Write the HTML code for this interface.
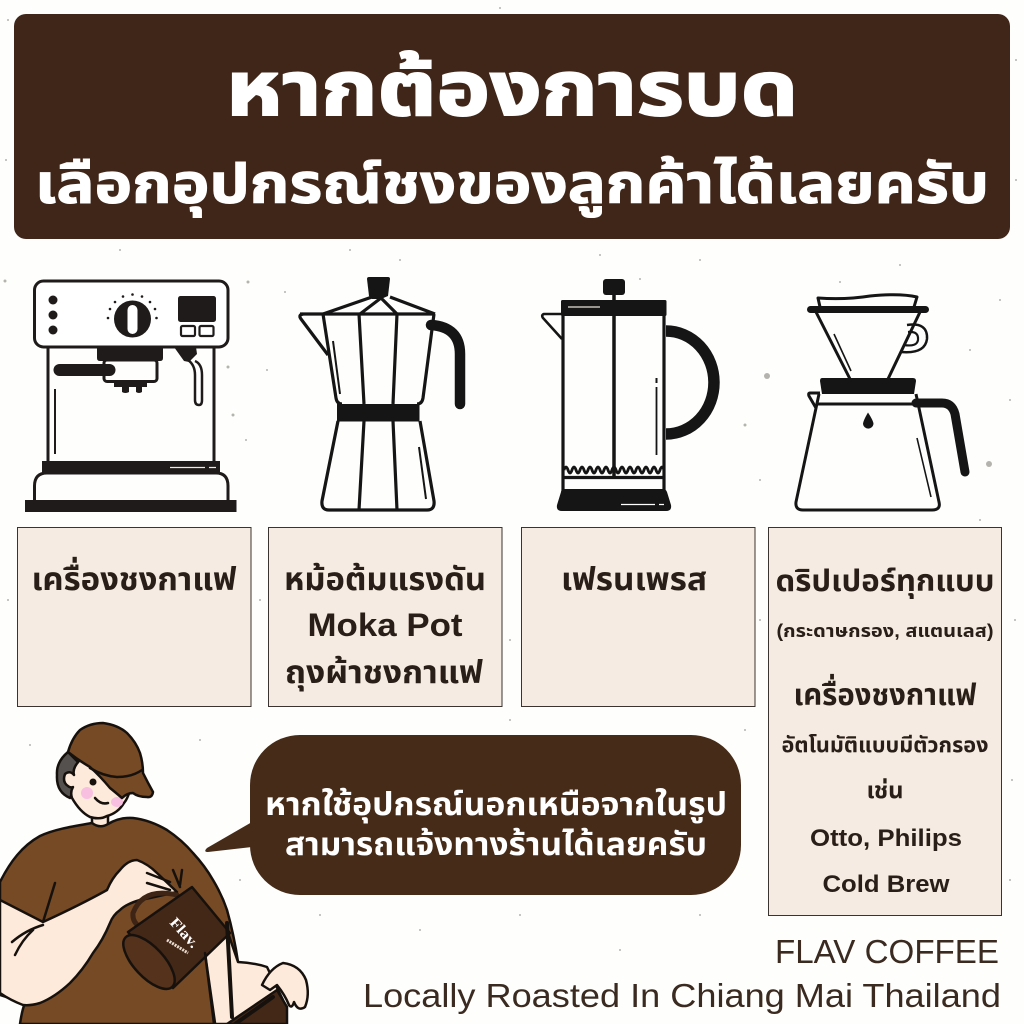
<!DOCTYPE html>
<html><head><meta charset="utf-8">
<style>html,body{margin:0;padding:0;background:#fff}svg{display:block}
text{font-family:"Liberation Sans","Noto Sans Thai","Noto Sans Thai Looped","Loma","Garuda","Tlwg Typo",sans-serif}</style>
</head><body>
<svg xmlns="http://www.w3.org/2000/svg" width="1024" height="1024" viewBox="0 0 1024 1024">
<rect width="1024" height="1024" fill="#fefefd"/>
<!-- speckles -->
<g fill="#b5b3ae">
<circle cx="767" cy="376" r="3"/><circle cx="989" cy="464" r="3"/><circle cx="248" cy="282" r="1.5"/><circle cx="228" cy="367" r="1.5"/><circle cx="233" cy="415" r="1.5"/>
<circle cx="5" cy="281" r="1.5"/><circle cx="285" cy="292" r="1"/><circle cx="640" cy="279" r="1"/><circle cx="840" cy="282" r="1"/><circle cx="745" cy="425" r="1.5"/>
<circle cx="267" cy="370" r="1"/><circle cx="246" cy="440" r="1"/><circle cx="400" cy="260" r="1"/><circle cx="600" cy="255" r="1"/><circle cx="900" cy="265" r="1"/>
<circle cx="1000" cy="300" r="1"/><circle cx="970" cy="350" r="1"/><circle cx="1010" cy="400" r="1"/><circle cx="980" cy="520" r="1"/><circle cx="760" cy="480" r="1"/>
<circle cx="30" cy="745" r="1"/><circle cx="200" cy="740" r="1"/><circle cx="240" cy="880" r="1"/><circle cx="320" cy="915" r="1"/><circle cx="420" cy="930" r="1"/>
<circle cx="520" cy="915" r="1"/><circle cx="620" cy="950" r="1"/><circle cx="700" cy="915" r="1"/><circle cx="745" cy="730" r="1"/><circle cx="510" cy="720" r="1"/>
<circle cx="1015" cy="620" r="1"/><circle cx="1012" cy="780" r="1"/><circle cx="1010" cy="880" r="1"/><circle cx="8" cy="600" r="1"/><circle cx="260" cy="600" r="1"/>
<circle cx="510" cy="640" r="1"/><circle cx="760" cy="620" r="1"/><circle cx="120" cy="250" r="1"/><circle cx="350" cy="250" r="1"/><circle cx="700" cy="260" r="1"/>
<circle cx="8" cy="20" r="1"/><circle cx="500" cy="8" r="1"/><circle cx="1016" cy="60" r="1"/><circle cx="1016" cy="180" r="1"/><circle cx="6" cy="160" r="1"/>
</g>
<!-- header -->
<rect x="14" y="14" width="996" height="225" rx="12" fill="#402618"/>
<text x="512" y="115" text-anchor="middle" font-size="76" font-weight="700" fill="#fff" stroke="#fff" stroke-width="2" textLength="572" lengthAdjust="spacingAndGlyphs">หากต้องการบด</text>
<text x="512" y="203" text-anchor="middle" font-size="55" font-weight="700" fill="#fff" stroke="#fff" stroke-width="1" textLength="954" lengthAdjust="spacingAndGlyphs">เลือกอุปกรณ์ชงของลูกค้าได้เลยครับ</text>

<!-- espresso machine -->
<g fill="none" stroke="#1e1b1a" stroke-width="3">
<rect x="34.500" y="281" width="193.500" height="66" rx="9" fill="#fff"/>
<path d="M48 347V461M214 347V461"/>
<path d="M34.500 501V486Q34.500 473 47 473H216Q228 473 228 486V501"/>
<path d="M55 389V454" stroke-width="2"/>
<rect x="181" y="326" width="14" height="10" rx="1.500" stroke-width="2.200"/><rect x="199.500" y="326" width="14" height="10" rx="1.500" stroke-width="2.200"/>
<rect x="104" y="360" width="53" height="21.500" rx="3"/>
<path d="M195 361Q202 364 202 375V400Q202 405 199 405Q195 405 195 400V375Q195 365 188 360" stroke-width="2.500" fill="#fff"/>
</g>
<g fill="#1e1b1a">
<rect x="25" y="500" width="211.500" height="12"/>
<rect x="42" y="461" width="178" height="12.500"/>
<circle cx="53" cy="300" r="4.500"/><circle cx="53" cy="315" r="4.500"/><circle cx="53" cy="330" r="4.500"/>
<circle cx="132.500" cy="319" r="18.500"/>
<rect x="178" y="296" width="38" height="26" rx="2.500"/>
<path d="M97 347H163V358Q163 361 160 361H100Q97 361 97 358Z"/>
<rect x="53.500" y="364" width="62" height="12" rx="6"/>
<path d="M114 381H147V387H142V392Q139 394 136 392V387H129V392Q125 394 122 392V387H114Z"/>
<path d="M174 347H196L197 354 189 362 184 361Z"/>
<circle cx="108" cy="318" r="1.300"/><circle cx="110" cy="309" r="1.300"/><circle cx="115" cy="302" r="1.300"/><circle cx="123" cy="296.500" r="1.300"/><circle cx="132.500" cy="294.500" r="1.300"/><circle cx="142" cy="296.500" r="1.300"/><circle cx="150" cy="302" r="1.300"/><circle cx="155" cy="309" r="1.300"/><circle cx="156.500" cy="318" r="1.300"/>
</g>
<rect x="127.500" y="305" width="10" height="29" rx="5" fill="#fff"/>
<path d="M170 467.500H205M209 467.500H216" stroke="#f3eadf" stroke-width="1.200"/>

<!-- moka pot -->
<g fill="none" stroke="#151515" stroke-width="3.200" stroke-linejoin="round">
<path d="M300 314H434"/>
<path d="M323 314L372 297M390 297L435 314M360 314L381 298 397 314"/>
<path d="M303 314Q298 315 301 319L328 355"/>
<path d="M323 314L336 398Q337 404 342 404M434 314L423 398Q422 404 417 404"/>
<path d="M359 314L364 404M397 314L393 404"/>
<path d="M338 421L322 501Q321 510 329 510H427Q435 510 434 501L420 421"/>
<path d="M364 421L359 510M393 421L397 510"/>
<path d="M333 341L340 394" stroke-width="2"/>
<path d="M419 447L426 499" stroke-width="2"/>
<path d="M431 325Q460 327 460 354V404" stroke-width="10.500" stroke-linecap="round"/>
</g>
<path d="M367 279Q367 277 369 277H388Q390 277 390 279L388 296L381 299 372 299 369 296Z" fill="#151515"/>
<rect x="337" y="404" width="82.500" height="17.500" fill="#151515"/>

<!-- french press -->
<g fill="none" stroke="#151515" stroke-width="3.200">
<path d="M563 315V490M664 315V490"/>
<path d="M563 314H544Q541 315 543 318L562 339" stroke-width="2.600"/>
<path d="M614 295V478" stroke-width="3.500"/>
<path d="M666 331A48 51.500 0 0 1 666 434" stroke-width="11.500"/>
<path d="M564 477.500H664"/>
<path d="M564 470q2-6 4 0q2 6 4 0q2-6 4 0q2 6 4 0q2-6 4 0q2 6 4 0q2-6 4 0q2 6 4 0q2-6 4 0q2 6 4 0q2-6 4 0q2 6 4 0q2-6 4 0q2 6 4 0q2-6 4 0q2 6 4 0q2-6 4 0q2 6 4 0q2-6 4 0q2 6 4 0q2-6 4 0q2 6 4 0q2-6 4 0q2 6 4 0q2-6 4 0" stroke-width="2.800"/>
<path d="M656.500 387V455" stroke-width="1.800"/><path d="M656.500 378V383" stroke-width="2"/>
</g>
<rect x="603" y="279" width="22" height="16" rx="3" fill="#151515"/>
<rect x="561" y="300" width="105.500" height="16" rx="1.500" fill="#151515"/>
<path d="M564 489H663Q666 489 667 492L671 505Q672 511 666 511H562Q556 511 557 505L561 492Q561 489 564 489Z" fill="#151515"/>
<path d="M568 307H600" stroke="#e8e2d8" stroke-width="1.200"/>
<path d="M621 504.500H655M659 504.500H664" stroke="#fff" stroke-width="1.200"/>

<!-- dripper -->
<g fill="none" stroke="#151515" stroke-width="3" stroke-linejoin="round">
<path d="M820 307L818 298Q845 300 870 296Q900 293 917 297L914 307"/>
<path d="M816 312L850 379M920 312L888 379"/>
<path d="M907 325Q928 322 927 339Q925 354 901 352" stroke-width="2.500"/>
<path d="M908 332Q919 331 918 340Q917 347 904 345" stroke-width="2.200"/>
<path d="M834 334L851 371" stroke-width="1.600"/>
<path d="M820 393H810Q808 393 809 396L816 408M818 404H916"/>
<path d="M819 394L796 502Q795 510 803 510H932Q941 510 939 502L916 394"/>
<path d="M917 438L931 497" stroke-width="1.600"/>
<path d="M916 403H942Q952 403 955 414L965 472" stroke-width="9" stroke-linecap="round"/>
</g>
<rect x="807" y="306" width="122" height="7" rx="3.500" fill="#151515"/>
<path d="M822 378H913Q916 378 916 381L914 394H822L820 381Q820 378 822 378Z" fill="#151515"/>
<path d="M868 412.500Q863 421 863 424A5.300 5.300 0 0 0 873.500 424Q873.500 421 868 412.500Z" fill="#151515"/>

<!-- boxes -->
<g fill="#f6ebe2" stroke="#3a3330" stroke-width="1">
<rect x="17.500" y="527.500" width="233.500" height="179"/>
<rect x="268.500" y="527.500" width="233.500" height="179"/>
<rect x="521.500" y="527.500" width="233.500" height="179"/>
<rect x="768.500" y="527.500" width="233" height="388"/>
</g>
<g fill="#2a1f18" font-weight="700" text-anchor="middle">
<text x="134" y="590" font-size="32" textLength="205" lengthAdjust="spacingAndGlyphs">เครื่องชงกาแฟ</text>
<text x="385" y="590" font-size="32" textLength="202" lengthAdjust="spacingAndGlyphs">หม้อต้มแรงดัน</text>
<text x="385" y="636" font-size="32" textLength="155" lengthAdjust="spacingAndGlyphs">Moka Pot</text>
<text x="384" y="683" font-size="32" textLength="198" lengthAdjust="spacingAndGlyphs">ถุงผ้าชงกาแฟ</text>
<text x="634" y="590" font-size="32" textLength="146" lengthAdjust="spacingAndGlyphs">เฟรนเพรส</text>
<text x="885" y="591" font-size="30" textLength="219" lengthAdjust="spacingAndGlyphs">ดริปเปอร์ทุกแบบ</text>
<text x="885" y="637" font-size="18" textLength="217" lengthAdjust="spacingAndGlyphs">(กระดาษกรอง, สแตนเลส)</text>
<text x="885" y="705" font-size="30" textLength="183" lengthAdjust="spacingAndGlyphs">เครื่องชงกาแฟ</text>
<text x="885" y="752" font-size="21" textLength="207" lengthAdjust="spacingAndGlyphs">อัตโนมัติแบบมีตัวกรอง</text>
<text x="885" y="798" font-size="23" textLength="37" lengthAdjust="spacingAndGlyphs">เช่น</text>
<text x="886" y="846" font-size="24" textLength="152" lengthAdjust="spacingAndGlyphs">Otto, Philips</text>
<text x="886" y="892" font-size="24" textLength="127" lengthAdjust="spacingAndGlyphs">Cold Brew</text>
</g>

<!-- bubble -->
<path d="M252 822L207 848Q203 852 208 852L252 847Z" fill="#462b18"/>
<rect x="250" y="735" width="491" height="160" rx="50" fill="#462b18"/>
<text x="496" y="815" text-anchor="middle" font-size="32" font-weight="700" fill="#fff" textLength="462" lengthAdjust="spacingAndGlyphs">หากใช้อุปกรณ์นอกเหนือจากในรูป</text>
<text x="496" y="855" text-anchor="middle" font-size="32" font-weight="700" fill="#fff" textLength="422" lengthAdjust="spacingAndGlyphs">สามารถแจ้งทางร้านได้เลยครับ</text>

<!-- footer -->
<text x="775" y="963" font-size="33" fill="#3a2a20" textLength="224" lengthAdjust="spacingAndGlyphs">FLAV COFFEE</text>
<text x="363" y="1007" font-size="33" fill="#3a2a20" textLength="638" lengthAdjust="spacingAndGlyphs">Locally Roasted In Chiang Mai Thailand</text>

<!-- character -->
<g stroke="#17110d" stroke-width="2.500" stroke-linejoin="round" stroke-linecap="round">
<!-- neck -->
<path d="M92 812H108V823Q108 827 100 827Q92 827 92 823Z" fill="#fdeadb"/>
<!-- shirt -->
<path d="M0 882C10 862 22 846 40 836C55 829 75 826 92 823Q100 829 108 824Q120 817 133 818Q150 820 167 830Q182 840 193 853Q205 866 213 880Q222 895 227 910Q234 935 238 962L214 1024H20Q22 1010 25 1003L0 995Z" fill="#754a25"/>
<!-- right arm behind -->
<path d="M205 953L227 930L238 962Q255 963 267 967L283 1000L250 1024H214Z" fill="#fdeadb"/>
<!-- hair -->
<path d="M68 752Q56 762 57 775Q56 792 70 798L84 768Z" fill="#55514f"/>
<!-- face -->
<path d="M80 760Q72 768 74 775Q70 770 65 774Q62 782 68 786Q70 788 73 787Q70 792 72 798Q80 812 90 817Q100 820 107 816Q118 813 124 803Q128 798 130 790L100 770Z" fill="#fdeadb"/>
<circle cx="93" cy="782" r="3.500" fill="#17110d" stroke="none"/>
<ellipse cx="87" cy="793" rx="6" ry="6" fill="#f8bfe0" stroke="none"/>
<ellipse cx="117" cy="802" rx="6" ry="5" fill="#f8bfe0" stroke="none"/>
<path d="M95 798Q101 805 108 803" fill="none"/>
<!-- cap -->
<path d="M68 752Q72 738 80 730Q90 723 103 723Q118 725 127 733Q136 742 140 753Q143 763 143 773Q148 783 153 792Q152 798 147 797Q138 797 133 793Q127 793 122 798Q115 792 110 788Q100 776 90 767Q78 760 68 752Z" fill="#754a25"/>
<path d="M90 768Q103 776 117 777Q132 777 142 770" fill="none"/>
<!-- front arm -->
<path d="M0 900L43 922Q80 905 107 890Q112 878 120 870Q128 860 137 860Q148 864 157 873L177 892L150 898L140 900Q126 904 120 910Q113 915 110 923Q103 940 93 953Q83 970 70 983Q55 997 40 1003Q30 1006 23 1005Q10 1000 0 993Z" fill="#fdeadb"/>
<path d="M147 873L170 882M147 883L170 890M173 870L180 887M182 870L180 885M43 922L55 883M12 942Q26 930 43 925M15 955Q22 940 33 930" fill="none"/>
<!-- mug handle -->
<path d="M177 895Q143 887 133 913Q132 922 140 927" fill="none" stroke="#3d2415" stroke-width="5"/>
<!-- mug -->
<path d="M128 932L192 887L230 933L173 988Z" fill="#442817"/>
<ellipse cx="149" cy="962" rx="34" ry="15" transform="rotate(47 149 962)" fill="#54321c"/>
<!-- gooseneck line -->
<path d="M227 923L232 1017" fill="none" stroke-width="4"/>
<path d="M205 953L215 1023" fill="none"/>
<!-- lower cup + hand -->
<path d="M227 1024L277 990L287 1007V1024Z" fill="#442817"/>
<path d="M235 1024L273 997" fill="none" stroke-width="4"/>
<path d="M262 985Q270 968 283 963Q300 965 306 980Q310 995 305 1007Q298 1012 294 1002Q292 1009 289 1005Q285 995 277 985L270 990Z" fill="#fdeadb"/>
</g>
<text transform="translate(169,923) rotate(48)" font-size="15" font-weight="700" fill="#fff" textLength="35" lengthAdjust="spacingAndGlyphs" style="font-family:'Liberation Serif',serif">Flav.</text>
<path d="M167 940L188 953" stroke="#e8dcd0" stroke-width="3" stroke-dasharray="2 1"/>
</svg>
</body></html>
